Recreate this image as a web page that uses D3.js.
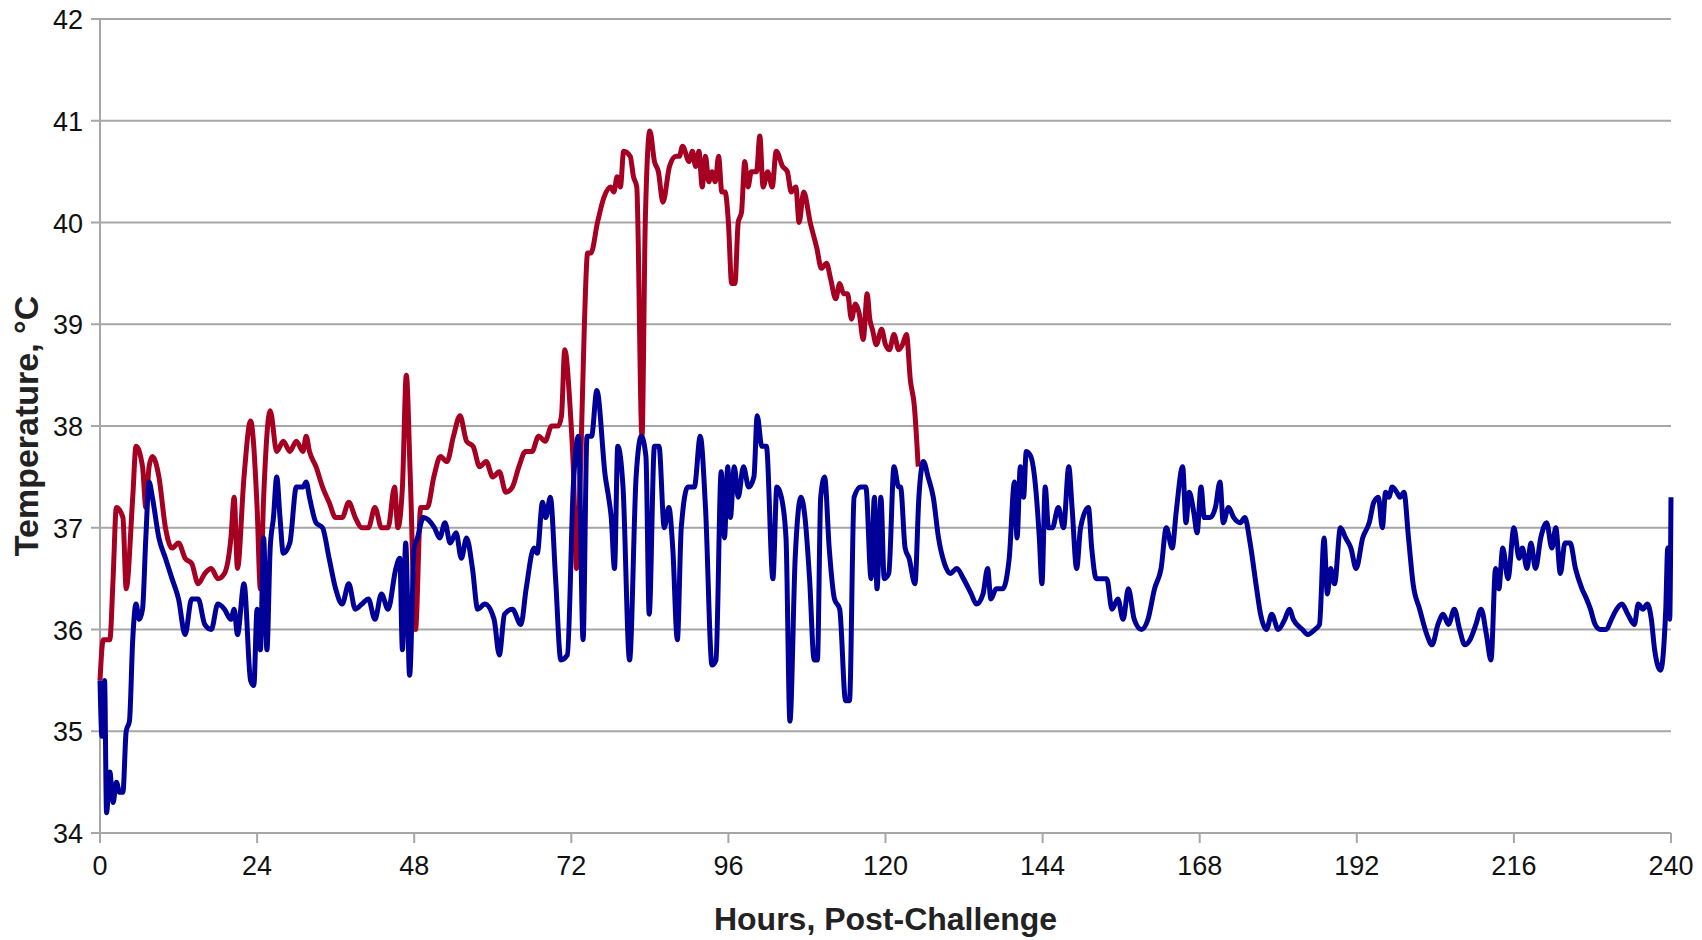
<!DOCTYPE html>
<html>
<head>
<meta charset="utf-8">
<title>Temperature</title>
<script src="https://cdn.jsdelivr.net/npm/d3@7"></script>
<style>
  body { margin: 0; background: #fff; }
  text { font-family: "Liberation Sans", Arial, sans-serif; }
</style>
</head>
<body>
<svg id="chart" width="1702" height="940"></svg>
<script>
// hours, temperature (°C)
var redHours = [0,0.5,1.5,2,2.5,3.5,4,5,5.5,6.5,7,7.5,8,9,10,11,12,13,14,15,16,17,18,19,20,20.5,21,22,23,24,24.5,25,26,27,28,29,30,31,31.5,32,33,34,35,36,37,38,39,40,41,42,43,44,45,45.5,46.2,46.8,47.4,48.2,49,50,51,52,53,54,55,56,57,58,59,60,61,62,63,64,65,66,67,68,69,70,70.5,71,71.8,72.3,72.8,73.5,74,74.5,75,76,77,78,78.5,79,79.5,80,81,81.5,82,82.8,83.3,84,84.7,85.3,86,87,88,88.5,89,90,90.5,91,91.5,92,92.5,93,93.5,94,94.5,95,95.5,96,96.5,97,97.5,98,98.5,99,99.5,100.3,100.8,101.3,102,102.7,103.3,104.3,105,105.6,106.3,106.8,107.5,108.5,109.5,110.2,111,111.6,112.4,113,113.6,114.2,114.8,115.4,116,116.6,117.2,117.6,118,118.6,119.4,120,120.6,121.3,122,122.6,123.2,123.8,124.4,125];
var redTemps = [35.5,35.9,35.9,36.5,37.2,37.1,36.4,37.3,37.8,37.6,37.2,37.6,37.7,37.5,37.0,36.8,36.85,36.7,36.65,36.45,36.55,36.6,36.5,36.55,36.9,37.3,36.6,37.5,38.05,37.2,36.4,37.3,38.15,37.75,37.85,37.75,37.85,37.75,37.9,37.75,37.6,37.4,37.25,37.1,37.1,37.25,37.1,37.0,37.0,37.2,37.0,37.0,37.4,37.0,37.4,38.5,37.5,36.0,37.2,37.2,37.5,37.7,37.65,37.9,38.1,37.85,37.8,37.6,37.65,37.5,37.55,37.35,37.4,37.6,37.75,37.75,37.9,37.85,38.0,38.0,38.1,38.75,38.2,37.6,36.6,37.8,39.0,39.7,39.7,40.0,40.25,40.35,40.3,40.45,40.35,40.7,40.65,40.45,40.35,37.9,40.0,40.9,40.6,40.5,40.2,40.55,40.65,40.65,40.75,40.6,40.7,40.55,40.7,40.35,40.65,40.4,40.5,40.4,40.65,40.3,40.3,40.0,39.4,39.4,40.0,40.1,40.6,40.35,40.5,40.5,40.85,40.35,40.5,40.35,40.7,40.55,40.5,40.3,40.35,40.0,40.3,40.0,39.75,39.55,39.6,39.45,39.25,39.4,39.3,39.3,39.05,39.2,39.1,38.85,39.3,39.05,38.95,38.8,38.95,38.8,38.75,38.9,38.75,38.8,38.9,38.45,38.2,37.6,37.3];

var blueHours = [0,0.3,0.7,1,1.5,2,2.5,3,3.5,4,4.5,5,5.5,6,6.5,7,7.5,8,9,10,11,12,13,14,15,16,17,18,19,20,20.5,21,22,23,23.5,24,24.5,25,25.5,26,26.5,27,27.5,28,29,30,31,31.5,32,33,34,35,36,37,38,39,40,41,42,43,44,45.2,45.8,46.2,46.7,47.3,48.0,48.5,49.4,51.1,51.9,52.7,53.5,54.4,55.2,56.0,56.9,57.7,58.8,60.2,61.0,61.8,63.0,64.3,65.1,66.3,66.8,67.6,68.1,68.8,69.6,70.4,71.4,72.3,73.1,73.8,74.4,75.1,75.9,77.2,77.7,78.1,78.6,79.1,79.9,80.9,81.9,82.7,83.4,83.9,84.7,85.4,86.2,86.9,87.5,88.2,88.8,89.8,90.8,91.7,92.5,93.5,94.1,94.9,95.4,95.9,96.3,96.9,97.5,98.3,99.1,99.9,100.4,101.1,101.8,102.8,103.4,104.1,104.8,105.4,106.2,107.1,107.7,108.4,109.1,109.6,110.1,110.7,111.4,112.2,113.0,113.9,114.5,115.2,116.2,117.0,117.8,118.3,118.7,119.3,119.8,120.5,121.3,122.0,122.3,123.0,123.6,124.5,125.1,125.8,126.5,127.3,128.1,129.0,129.9,130.9,131.9,133.1,133.9,134.9,135.6,136.1,136.9,137.9,138.9,139.7,140.1,140.6,141.1,141.5,142.2,143.0,143.5,143.9,144.4,144.9,145.5,146.4,147.2,148.0,148.5,149.2,149.8,151.0,151.5,152.2,153.0,153.8,154.6,155.5,156.3,157.1,158.0,159.1,160.1,161.1,162.1,162.9,163.8,164.4,165.4,165.9,166.4,167.1,167.6,168.2,168.7,169.6,170.4,171.1,171.6,172.4,173.2,174.2,174.9,175.7,176.7,177.3,178.2,179.0,180.0,181.0,181.7,182.3,183.7,184.5,185.6,186.3,187.0,187.5,188.0,188.6,189.5,190.3,191.1,191.9,192.9,193.9,194.6,195.3,195.9,196.4,196.9,197.4,198.1,198.6,199.2,199.9,200.6,201.6,202.7,203.5,204.4,205.2,206.0,206.9,207.7,208.5,209.3,210.2,211.0,211.8,212.5,213.2,213.7,214.3,215.1,216.0,216.8,217.3,218.0,218.6,219.3,220.1,221.0,221.8,222.4,223.1,223.8,224.6,225.4,226.4,227.1,227.7,228.4,229.2,230.1,230.9,231.7,232.5,233.4,234.4,235.0,235.7,236.4,237.0,237.5,238.4,239.2,239.5,239.8,240];
var blueTemps = [35.5,34.95,35.5,34.2,34.6,34.3,34.5,34.4,34.4,35.0,35.1,35.9,36.25,36.1,36.2,36.9,37.45,37.3,36.9,36.7,36.5,36.3,35.95,36.3,36.3,36.05,36.0,36.25,36.2,36.1,36.2,35.95,36.45,35.5,35.45,36.2,35.8,36.9,35.8,36.8,37.1,37.5,37.1,36.75,36.85,37.4,37.4,37.45,37.3,37.05,37.0,36.7,36.4,36.25,36.45,36.2,36.25,36.3,36.1,36.35,36.2,36.6,36.7,35.8,36.85,35.55,36.8,36.9,37.1,37.0,36.9,37.05,36.85,36.95,36.7,36.9,36.6,36.2,36.25,36.1,35.75,36.15,36.2,36.05,36.4,36.8,36.75,37.25,37.1,37.3,36.5,35.7,35.75,37.4,37.9,35.9,37.9,37.9,38.35,37.5,37.3,37.1,36.6,37.8,37.4,35.7,37.5,37.9,37.7,36.15,37.8,37.8,37.0,37.2,36.8,35.9,37.0,37.4,37.4,37.9,37.2,35.65,35.7,37.55,36.9,37.6,37.1,37.6,37.3,37.6,37.4,37.5,38.1,37.8,37.8,36.5,37.4,37.3,36.9,35.1,36.7,37.3,37.1,36.5,35.7,35.7,37.3,37.5,36.8,36.3,36.2,35.3,35.3,37.3,37.4,37.4,36.5,37.3,36.4,37.3,36.5,36.55,37.6,37.4,37.4,36.8,36.7,36.45,37.3,37.65,37.5,37.3,36.9,36.65,36.55,36.6,36.5,36.35,36.25,36.35,36.6,36.3,36.4,36.4,36.7,37.45,36.9,37.6,37.3,37.75,37.7,37.35,36.9,36.45,37.4,37.0,37.0,37.2,37.0,37.6,37.2,36.6,37.0,37.2,36.8,36.5,36.5,36.5,36.2,36.3,36.1,36.4,36.1,36.0,36.1,36.4,36.6,37.0,36.8,37.15,37.6,37.05,37.35,37.15,36.95,37.4,37.1,37.1,37.2,37.45,37.05,37.2,37.1,37.05,37.1,36.85,36.4,36.15,36.0,36.15,36.0,36.1,36.2,36.1,36.0,35.95,36.0,36.05,36.9,36.35,36.6,36.45,37.0,36.9,36.8,36.6,36.9,37.05,37.25,37.3,37.0,37.35,37.3,37.4,37.35,37.3,37.35,36.9,36.45,36.2,35.95,35.85,36.05,36.15,36.05,36.2,36.0,35.85,35.9,36.05,36.2,35.95,35.7,36.6,36.4,36.8,36.5,37.0,36.7,36.8,36.6,36.85,36.6,36.9,37.05,36.8,37.0,36.55,36.85,36.85,36.6,36.4,36.3,36.2,36.05,36.0,36.0,36.1,36.2,36.25,36.15,36.05,36.25,36.2,36.25,36.1,35.8,35.6,36.2,36.8,36.1,37.3];

var xTicks = [0,24,48,72,96,120,144,168,192,216,240];
var yTicks = [34,35,36,37,38,39,40,41,42];

var svg = d3.select("#chart");
var padL = 100, padR = 1671, padT = 19, padB = 833;

var x = d3.scaleLinear().domain([0, 240]).range([padL, padR]);
var y = d3.scaleLinear().domain([34, 42]).range([padB, padT]);

// gridlines
svg.append("g").selectAll("line").data(yTicks).join("line")
  .attr("x1", padL - 9).attr("x2", padR)
  .attr("y1", d => y(d)).attr("y2", d => y(d))
  .attr("stroke", "#a6a6a6").attr("stroke-width", 2);

svg.append("line").attr("x1", padL).attr("x2", padL).attr("y1", padT).attr("y2", padB + 9)
  .attr("stroke", "#a6a6a6").attr("stroke-width", 2);

svg.append("g").selectAll("line").data(xTicks).join("line")
  .attr("x1", d => x(d)).attr("x2", d => x(d))
  .attr("y1", padB).attr("y2", padB + 10)
  .attr("stroke", "#a6a6a6").attr("stroke-width", 2);

svg.append("g").selectAll("text").data(yTicks).join("text")
  .attr("x", padL - 17).attr("y", d => y(d) + 10)
  .attr("text-anchor", "end").attr("font-size", 27).attr("fill", "#111")
  .text(d => d);

svg.append("g").selectAll("text").data(xTicks).join("text")
  .attr("x", d => x(d)).attr("y", padB + 42)
  .attr("text-anchor", "middle").attr("font-size", 27).attr("fill", "#111")
  .text(d => d);

svg.append("text").attr("x", x(120)).attr("y", 930)
  .attr("text-anchor", "middle").attr("font-size", 32).attr("font-weight", "bold").attr("fill", "#222")
  .text("Hours, Post-Challenge");

svg.append("text").attr("transform", "translate(38," + ((padT + padB) / 2) + ") rotate(-90)")
  .attr("text-anchor", "middle").attr("font-size", 34).attr("font-weight", "bold").attr("fill", "#222")
  .text("Temperature, °C");

var line = d3.line().curve(d3.curveMonotoneX).x(d => x(d[0])).y(d => y(d[1]));

svg.append("path").datum(d3.zip(redHours, redTemps))
  .attr("d", line).attr("fill", "none").attr("stroke", "#a50021").attr("stroke-width", 5).attr("stroke-linejoin", "round");

svg.append("path").datum(d3.zip(blueHours, blueTemps))
  .attr("d", line).attr("fill", "none").attr("stroke", "#000099").attr("stroke-width", 5).attr("stroke-linejoin", "round");
</script>
</body>
</html>
